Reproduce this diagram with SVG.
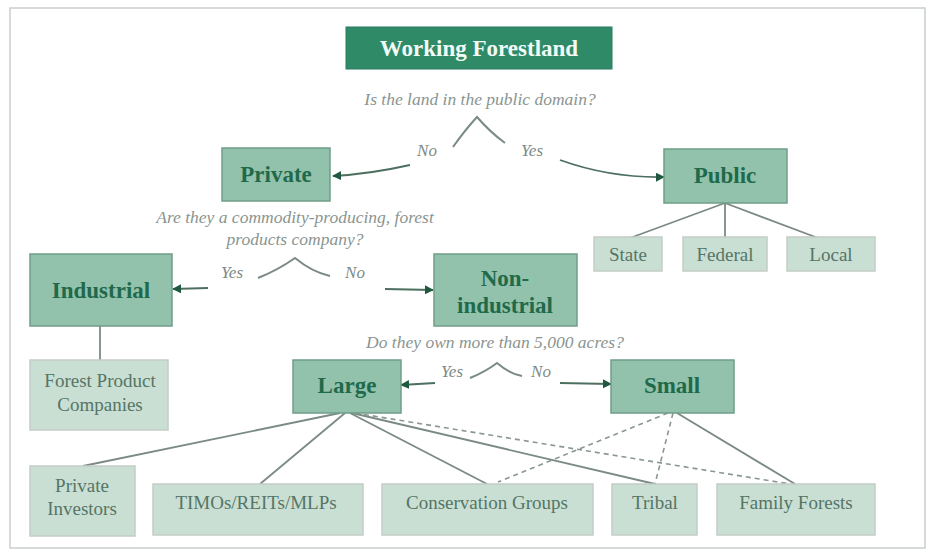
<svg xmlns="http://www.w3.org/2000/svg" width="935" height="554" viewBox="0 0 935 554">
<defs>
<style>
.bg{fill:#ffffff}
.frame{fill:none;stroke:#c9cfcc;stroke-width:1.5}
.title{fill:#2f8a68;stroke:#2a7a5d;stroke-width:1}
.titletxt{font-family:"Liberation Serif",serif;font-weight:bold;font-size:23px;fill:#f2fbf6}
.mid{fill:#93c2ac;stroke:#6f9d88;stroke-width:1.5}
.midtxt{font-family:"Liberation Serif",serif;font-weight:bold;font-size:23px;fill:#1f6a4b}
.lite{fill:#c9dfd3;stroke:#c3cdc8;stroke-width:1.5}
.litetxt{font-family:"Liberation Serif",serif;font-size:19px;fill:#557566}
.q{font-family:"Liberation Serif",serif;font-style:italic;font-size:17.5px;fill:#8a9590}
.yn{font-family:"Liberation Serif",serif;font-style:italic;font-size:17px;fill:#7e8a85}
.brace{fill:none;stroke:#7a8a84;stroke-width:2}
.arrow{fill:none;stroke:#4d6f60;stroke-width:1.8;marker-end:url(#ah)}
.line{fill:none;stroke:#7b8a84;stroke-width:1.8}
.dash{fill:none;stroke:#8a9791;stroke-width:1.6;stroke-dasharray:5,4}
</style>
<marker id="ah" viewBox="0 0 10 10" refX="9" refY="5" markerWidth="5" markerHeight="5" orient="auto">
<path d="M0,0 L10,5 L0,10 z" fill="#1f5a40"/>
</marker>
</defs>
<rect class="bg" x="0" y="0" width="935" height="554"/>
<rect class="frame" x="10" y="8" width="915" height="540"/>

<g id="connectors">
<path class="brace" d="M453,147 Q465,130 477,117 Q490,132 505,143"/>
<path class="arrow" d="M410,165 Q370,174 333,176"/>
<path class="arrow" d="M560,160 Q610,178 664,177"/>
<path class="line" d="M725,203 L630,238"/>
<path class="line" d="M725,203 L725,237"/>
<path class="line" d="M725,203 L818,238"/>
<path class="brace" d="M258,278 Q278,270 295,258 Q312,272 330,276"/>
<path class="arrow" d="M208,288 L173,289"/>
<path class="arrow" d="M385,289 L433,290"/>
<path class="line" d="M100,326 L100,360"/>
<path class="brace" d="M470,378 Q485,372 497,363 Q510,374 522,376"/>
<path class="arrow" d="M435,383 L401,385"/>
<path class="arrow" d="M560,383 L611,384"/>
<path class="line" d="M340,413 L83,466"/>
<path class="line" d="M345,413 L260,484"/>
<path class="line" d="M350,413 L487,484"/>
<path class="line" d="M352,413 L655,484"/>
<path class="dash" d="M355,413 L790,484"/>
<path class="line" d="M677,413 L795,484"/>
<path class="dash" d="M673,413 L655,484"/>
<path class="dash" d="M668,413 L498,482"/>
</g>

<g id="working-forestland">
<rect class="title" x="346" y="27" width="266" height="42"/>
<text class="titletxt" x="479" y="56" text-anchor="middle">Working Forestland</text>
</g>
<text class="q" x="480" y="105" text-anchor="middle">Is the land in the public domain?</text>
<text class="yn" x="427" y="156" text-anchor="middle">No</text>
<text class="yn" x="532" y="156" text-anchor="middle">Yes</text>

<g id="private">
<rect class="mid" x="222" y="148" width="108" height="53"/>
<text class="midtxt" x="276" y="182" text-anchor="middle">Private</text>
</g>
<g id="public">
<rect class="mid" x="664" y="149" width="123" height="54"/>
<text class="midtxt" x="725" y="183" text-anchor="middle">Public</text>
</g>
<g id="state">
<rect class="lite" x="594" y="237" width="68" height="34"/>
<text class="litetxt" x="628" y="261" text-anchor="middle">State</text>
</g>
<g id="federal">
<rect class="lite" x="683" y="237" width="84" height="34"/>
<text class="litetxt" x="725" y="261" text-anchor="middle">Federal</text>
</g>
<g id="local">
<rect class="lite" x="787" y="237" width="88" height="34"/>
<text class="litetxt" x="831" y="261" text-anchor="middle">Local</text>
</g>

<text class="q" x="295" y="223" text-anchor="middle">Are they a commodity-producing, forest</text>
<text class="q" x="295" y="245" text-anchor="middle">products company?</text>
<text class="yn" x="232" y="278" text-anchor="middle">Yes</text>
<text class="yn" x="355" y="278" text-anchor="middle">No</text>

<g id="industrial">
<rect class="mid" x="30" y="254" width="142" height="72"/>
<text class="midtxt" x="101" y="298" text-anchor="middle">Industrial</text>
</g>
<g id="non-industrial">
<rect class="mid" x="434" y="254" width="143" height="72"/>
<text class="midtxt" x="505" y="286" text-anchor="middle">Non-</text>
<text class="midtxt" x="505" y="313" text-anchor="middle">industrial</text>
</g>
<g id="forest-product-companies">
<rect class="lite" x="30" y="360" width="138" height="70"/>
<text class="litetxt" x="100" y="387" text-anchor="middle">Forest Product</text>
<text class="litetxt" x="100" y="411" text-anchor="middle">Companies</text>
</g>

<text class="q" x="495" y="348" text-anchor="middle">Do they own more than 5,000 acres?</text>
<text class="yn" x="452" y="377" text-anchor="middle">Yes</text>
<text class="yn" x="541" y="377" text-anchor="middle">No</text>

<g id="large">
<rect class="mid" x="293" y="360" width="108" height="53"/>
<text class="midtxt" x="347" y="393" text-anchor="middle">Large</text>
</g>
<g id="small">
<rect class="mid" x="611" y="360" width="123" height="53"/>
<text class="midtxt" x="672" y="393" text-anchor="middle">Small</text>
</g>

<g id="private-investors">
<rect class="lite" x="30" y="466" width="105" height="70"/>
<text class="litetxt" x="82" y="492" text-anchor="middle">Private</text>
<text class="litetxt" x="82" y="515" text-anchor="middle">Investors</text>
</g>
<g id="timos">
<rect class="lite" x="153" y="484" width="210" height="51"/>
<text class="litetxt" x="256" y="509" text-anchor="middle">TIMOs/REITs/MLPs</text>
</g>
<g id="conservation-groups">
<rect class="lite" x="382" y="484" width="211" height="51"/>
<text class="litetxt" x="487" y="509" text-anchor="middle">Conservation Groups</text>
</g>
<g id="tribal">
<rect class="lite" x="612" y="484" width="85" height="51"/>
<text class="litetxt" x="655" y="509" text-anchor="middle">Tribal</text>
</g>
<g id="family-forests">
<rect class="lite" x="717" y="484" width="158" height="51"/>
<text class="litetxt" x="796" y="509" text-anchor="middle">Family Forests</text>
</g>
</svg>
